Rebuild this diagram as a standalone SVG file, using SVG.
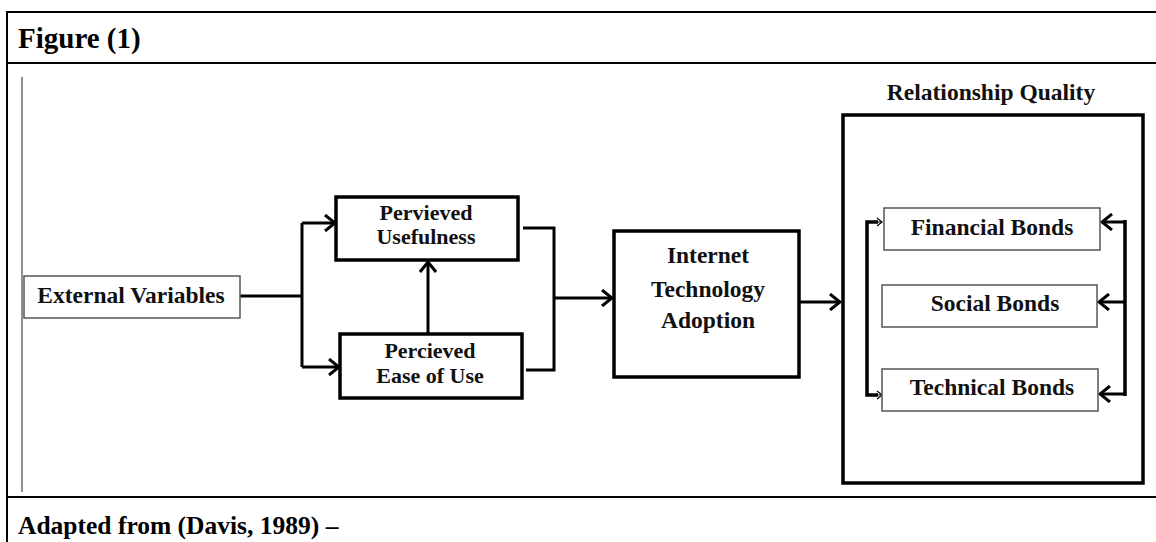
<svg xmlns="http://www.w3.org/2000/svg" width="1156" height="542" viewBox="0 0 1156 542">
<style>
.frame{stroke:#000;stroke-width:2;fill:none}
.ttl{font-family:"Liberation Serif","Times New Roman",serif;font-weight:bold;fill:#000}
.lbl{font-family:"Liberation Serif","Times New Roman",serif;font-weight:bold;font-size:23.5px;fill:#111;text-anchor:middle}
.sm{font-size:22px}
.thin{fill:#fff;stroke:#555;stroke-width:1.5}
.thick{fill:#fff;stroke:#000;stroke-width:3.5}
.con{fill:none;stroke:#000;stroke-width:3}
.conn{fill:none;stroke:#000;stroke-width:3.5}
</style>
<defs>
<marker id="arr" markerUnits="userSpaceOnUse" viewBox="0 0 14 18" markerWidth="14" markerHeight="18" refX="12" refY="9" orient="auto">
<path d="M2,1 L12,9 L2,17" fill="none" stroke="#000" stroke-width="3"/>
</marker>
<marker id="arrs" markerUnits="userSpaceOnUse" viewBox="0 0 7 10" markerWidth="7" markerHeight="10" refX="6" refY="5" orient="auto">
<path d="M1,1 L6,5 L1,9" fill="none" stroke="#000" stroke-width="1.2"/>
</marker>
</defs>
<rect width="1156" height="542" fill="#fff"/>
<g id="frame">
<line class="frame" x1="7" y1="12" x2="1156" y2="12"/>
<line class="frame" x1="7" y1="63" x2="1156" y2="63"/>
<line class="frame" x1="7" y1="497" x2="1156" y2="497"/>
<line class="frame" x1="7" y1="11" x2="7" y2="542"/>
<line x1="22" y1="77" x2="22" y2="492" stroke="#445" stroke-width="1.2"/>
<text class="ttl" x="18" y="48" font-size="29">Figure (1)</text>
<text class="ttl" x="18" y="534" font-size="25.5">Adapted from (Davis, 1989) –</text>
</g>
<g id="connectors">
<polyline class="con" points="240,296 302,296"/>
<polyline class="con" points="302,223 302,367"/>
<polyline class="con" points="302,223 335,223" marker-end="url(#arr)"/>
<polyline class="con" points="302,367 339,367" marker-end="url(#arr)"/>
<polyline class="con" points="428,334 428,262" marker-end="url(#arr)"/>
<polyline class="con" points="523,228 554,228 554,370 526,370"/>
<polyline class="con" points="554,298 612,298" marker-end="url(#arr)"/>
<polyline class="con" points="799,302 840,302" marker-end="url(#arr)"/>
<polyline class="conn" points="878,222 867,222 867,395 878,395"/>
<line x1="877" y1="222" x2="882" y2="222" stroke="#000" stroke-width="1" marker-end="url(#arrs)"/>
<line x1="877" y1="395" x2="882" y2="395" stroke="#000" stroke-width="1" marker-end="url(#arrs)"/>
<polyline class="conn" points="1125,220 1125,396"/>
<polyline class="con" points="1126,222 1102,222" marker-end="url(#arr)"/>
<polyline class="con" points="1126,302 1099,302" marker-end="url(#arr)"/>
<polyline class="con" points="1126,394 1100,394" marker-end="url(#arr)"/>
</g>
<g id="external">
<rect class="thin" x="24" y="276" width="216" height="42"/>
<text class="lbl" x="131" y="303">External Variables</text>
</g>
<g id="usefulness">
<rect class="thick" x="336" y="197" width="182" height="63" stroke-width="3"/>
<text class="lbl sm" x="426" y="220">Pervieved</text>
<text class="lbl sm" x="426" y="244">Usefulness</text>
</g>
<g id="ease">
<rect class="thick" x="340" y="334" width="182" height="64" stroke-width="3"/>
<text class="lbl sm" x="430" y="358">Percieved</text>
<text class="lbl sm" x="430" y="383">Ease of Use</text>
</g>
<g id="adoption">
<rect class="thick" x="614" y="231" width="185" height="146" stroke-width="2.5"/>
<text class="lbl" x="708" y="263">Internet</text>
<text class="lbl" x="708" y="297">Technology</text>
<text class="lbl" x="708" y="328">Adoption</text>
</g>
<g id="quality">
<text class="lbl" x="991" y="100">Relationship Quality</text>
<rect class="thick" x="843" y="115" width="300" height="368" style="fill:none"/>
</g>
<g id="financial">
<rect class="thin" x="884" y="208" width="216" height="42"/>
<text class="lbl" x="992" y="235">Financial Bonds</text>
</g>
<g id="social">
<rect class="thin" x="882" y="285" width="215" height="42"/>
<text class="lbl" x="995" y="311">Social Bonds</text>
</g>
<g id="technical">
<rect class="thin" x="882" y="369" width="216" height="42"/>
<text class="lbl" x="992" y="395">Technical Bonds</text>
</g>
</svg>
